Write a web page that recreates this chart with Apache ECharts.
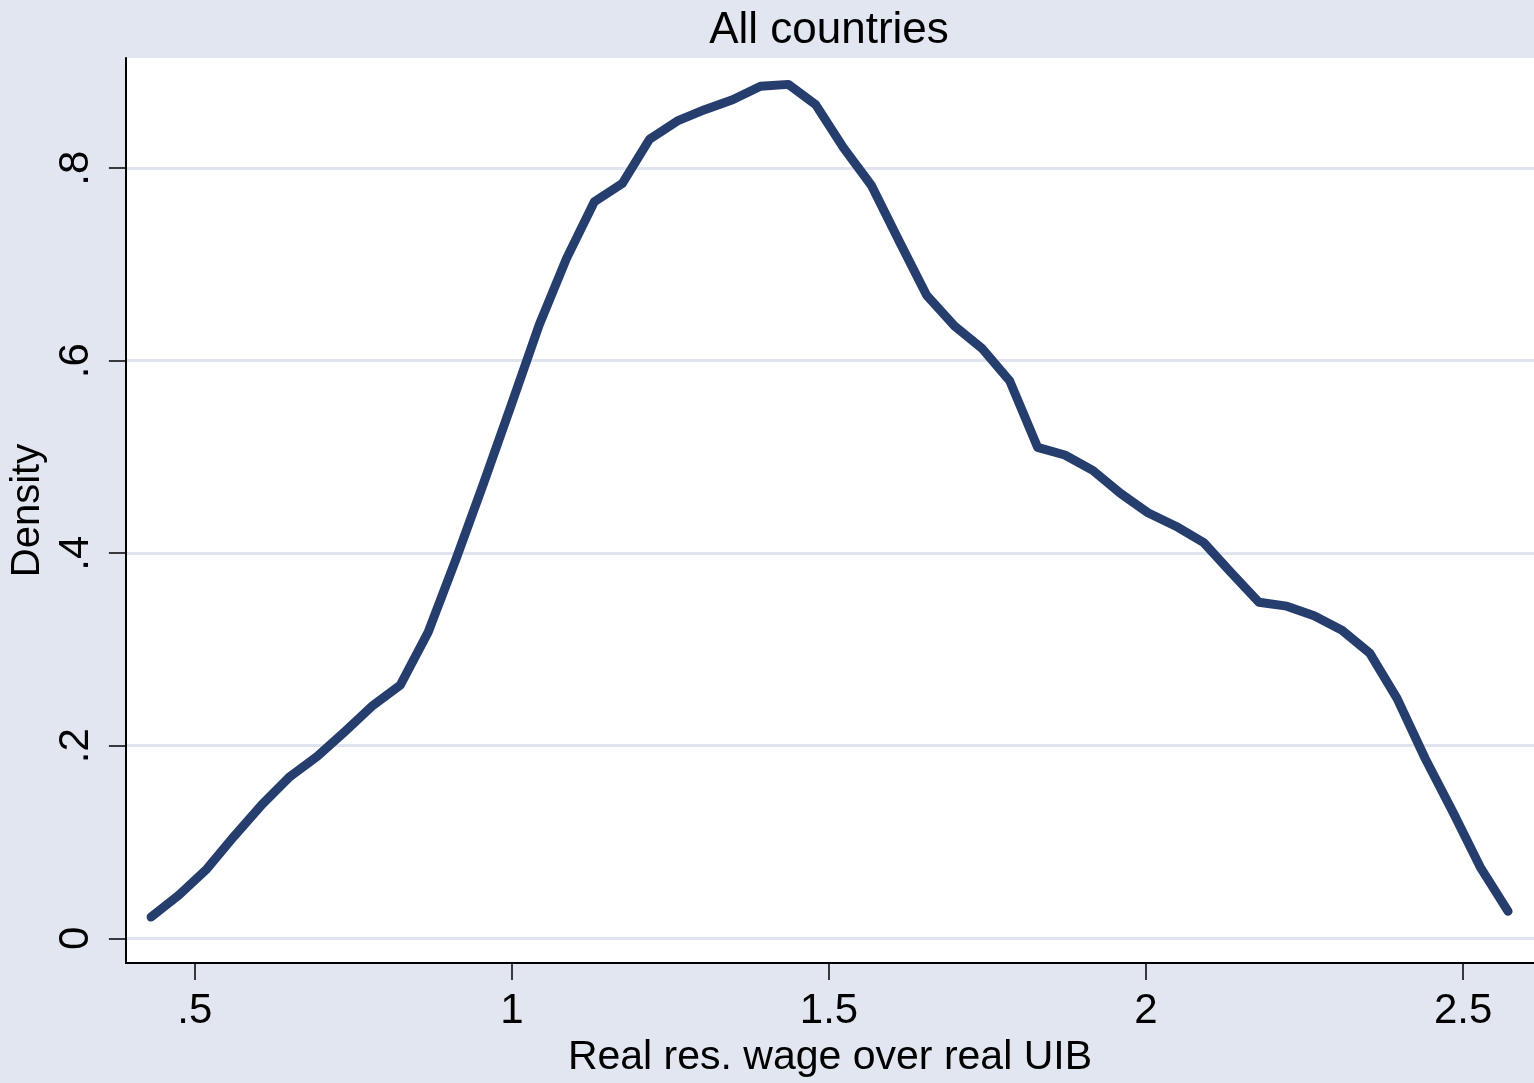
<!DOCTYPE html>
<html>
<head>
<meta charset="utf-8">
<title>All countries</title>
<script src="https://cdn.jsdelivr.net/npm/echarts@6/dist/echarts.min.js"></script>
<style>
  html, body { margin: 0; padding: 0; background: #E1E6F0; }
  #chart { width: 1534px; height: 1083px; }
</style>
</head>
<body>
<div id="chart"></div>
<script>
// Kernel density estimate of the real reservation wage over real UIB ratio (50 evaluation points)
const wageRatio = [
  0.431, 0.475, 0.519, 0.562, 0.606, 0.650, 0.693, 0.737, 0.781, 0.824,
  0.868, 0.912, 0.955, 0.999, 1.043, 1.086, 1.130, 1.174, 1.217, 1.261,
  1.305, 1.348, 1.392, 1.436, 1.479, 1.523, 1.567, 1.610, 1.654, 1.698,
  1.741, 1.785, 1.829, 1.872, 1.916, 1.960, 2.003, 2.047, 2.091, 2.134,
  2.178, 2.222, 2.265, 2.309, 2.353, 2.396, 2.440, 2.484, 2.527, 2.571
];
const density = [
  0.022, 0.045, 0.072, 0.106, 0.139, 0.168, 0.189, 0.215, 0.242, 0.263,
  0.318, 0.394, 0.472, 0.554, 0.637, 0.706, 0.765, 0.784, 0.830, 0.849,
  0.861, 0.871, 0.885, 0.887, 0.866, 0.821, 0.782, 0.725, 0.668, 0.636,
  0.613, 0.579, 0.510, 0.502, 0.486, 0.462, 0.442, 0.428, 0.411, 0.380,
  0.349, 0.345, 0.335, 0.320, 0.296, 0.249, 0.187, 0.131, 0.074, 0.028
];
const xTicks = [0.5, 1, 1.5, 2, 2.5];
const yTicks = [0, 0.2, 0.4, 0.6, 0.8];

const FONT = '"Liberation Sans", Arial, Helvetica, sans-serif';
const dropLeadingZero = v => String(v).replace(/^0\./, '.');

const points = wageRatio.map((x, i) => [x, density[i]]);

const chart = echarts.init(document.getElementById('chart'), null, { renderer: 'canvas' });
chart.setOption({
  animation: false,
  backgroundColor: '#E1E6F0',
  title: {
    text: 'All countries',
    left: 824,
    top: 4,
    textAlign: 'center',
    textStyle: { fontFamily: FONT, fontSize: 44, fontWeight: 'normal', color: '#000' }
  },
  grid: {
    left: 124, right: 0, top: 58, bottom: 113,
    show: true, backgroundColor: '#FFFFFF', borderWidth: 0
  },
  xAxis: {
    type: 'value',
    min: 0.3913, max: 2.6118,
    name: 'Real res. wage over real UIB',
    nameLocation: 'middle',
    nameGap: 69,
    nameTextStyle: { fontFamily: FONT, fontSize: 41, color: '#000' },
    axisLine: { show: true, onZero: false, lineStyle: { color: '#000', width: 2 } },
    axisTick: { show: true, customValues: xTicks, length: 17, lineStyle: { color: '#000', width: 1.5 } },
    axisLabel: {
      customValues: xTicks, fontFamily: FONT, fontSize: 42, color: '#000', margin: 27,
      formatter: dropLeadingZero
    },
    splitLine: { show: false }
  },
  yAxis: {
    type: 'value',
    min: -0.0258, max: 0.9144,
    name: 'Density',
    nameLocation: 'middle',
    nameRotate: 90,
    nameGap: 69,
    nameTextStyle: { fontFamily: FONT, fontSize: 40, color: '#000' },
    axisLine: { show: true, onZero: false, lineStyle: { color: '#000', width: 2 } },
    axisTick: { show: true, customValues: yTicks, length: 17, lineStyle: { color: '#000', width: 1.5 } },
    axisLabel: {
      customValues: yTicks, rotate: 90, fontFamily: FONT, fontSize: 42, color: '#000', margin: 28,
      formatter: dropLeadingZero
    },
    splitLine: { show: true, lineStyle: { color: '#DFE4EF', width: 3 } }
  },
  series: [{
    type: 'line',
    data: points,
    showSymbol: false,
    smooth: false,
    lineStyle: { color: '#263E6E', width: 9, cap: 'round', join: 'round' },
    itemStyle: { color: '#263E6E' }
  }]
});
</script>
</body>
</html>
